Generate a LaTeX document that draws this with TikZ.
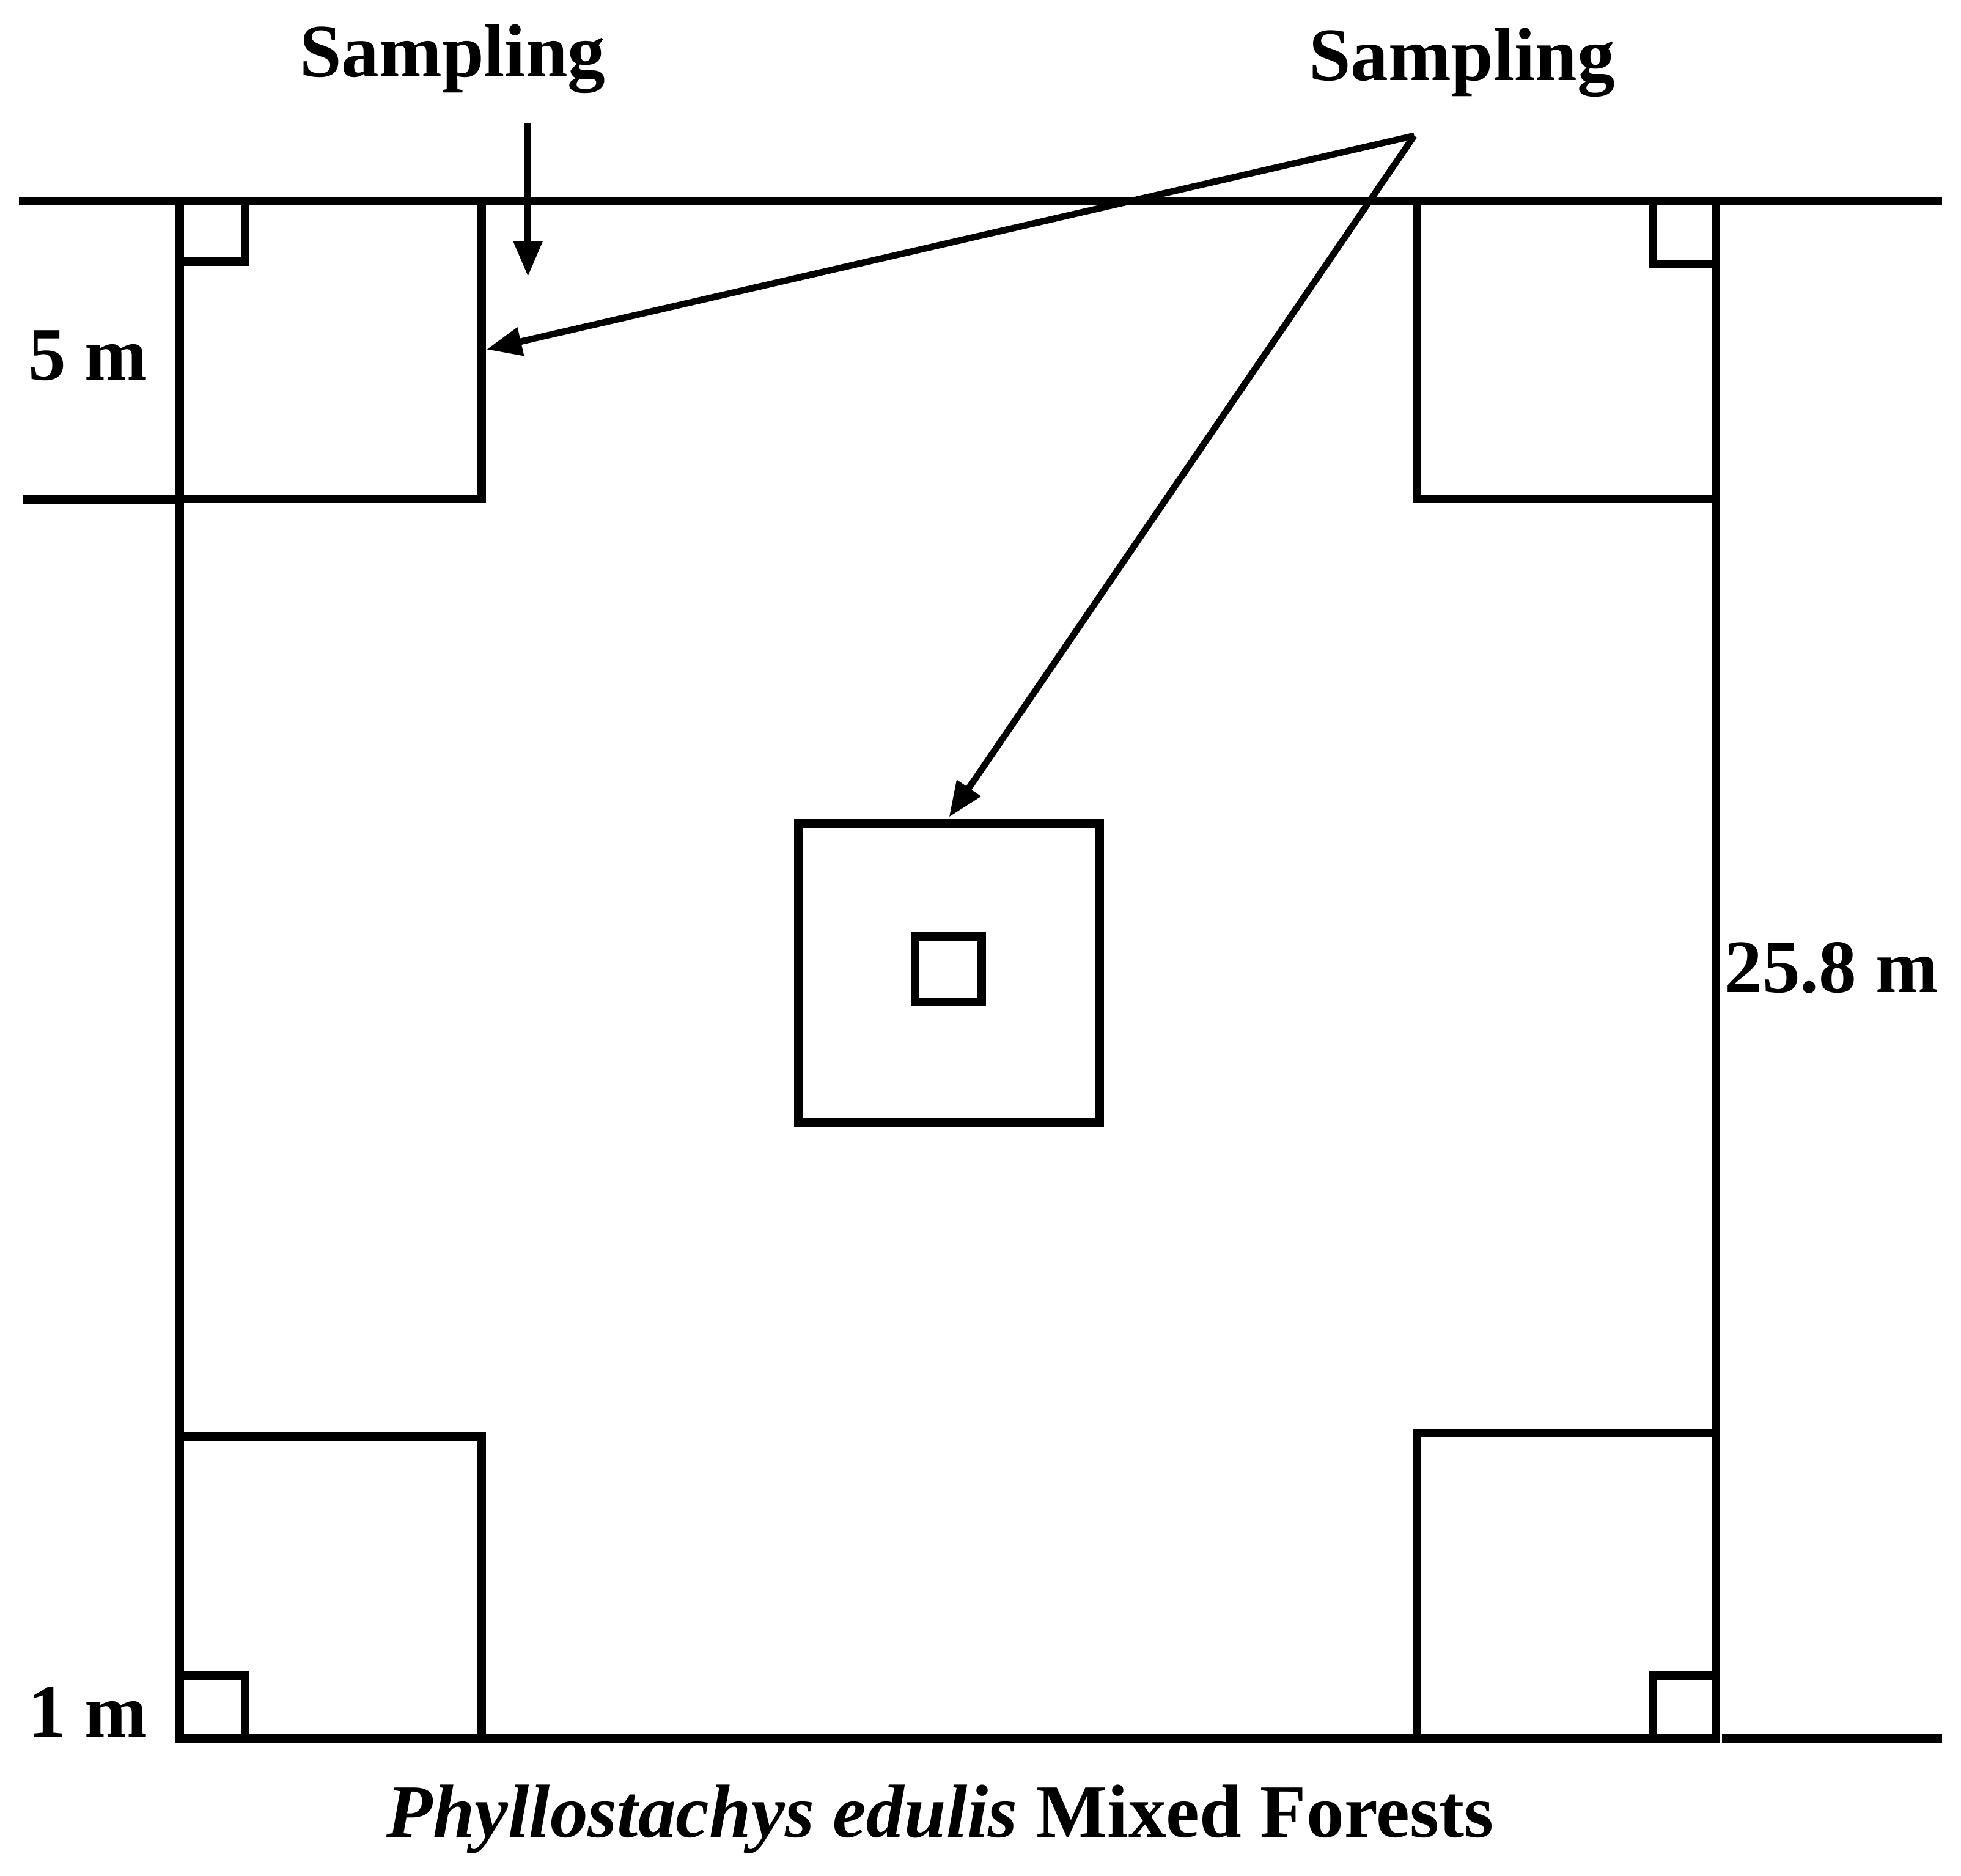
\documentclass[tikz,border=0pt]{standalone}
\usepackage{fontspec}
\setmainfont{Liberation Serif}
\usetikzlibrary{arrows.meta}
\begin{document}
\begin{tikzpicture}[x=0.5pt,y=-0.5pt,
  plot/.style={draw=black,line width=3.4pt},
  rule/.style={draw=black,line width=3.6pt},
  arr/.style={draw=black,line width=2.6pt,-{Triangle[length=14pt,width=11pt]}},
  lab/.style={font=\fontsize{30}{36}\selectfont\bfseries,inner sep=0pt}]
\useasboundingbox (0,0) rectangle (1560,1492);
% outer plot
\draw[plot] (143,160) rectangle (1365,1383);
\draw[rule] (15,160) -- (143,160);
\draw[rule] (1365,160) -- (1545,160);
\draw[rule] (18,397) -- (143,397);
\draw[rule] (1370,1383) -- (1545,1383);
% 5 m subplots
\draw[plot] (143,160) rectangle (383,397);
\draw[plot] (1127,160) rectangle (1365,397);
\draw[plot] (143,1143) rectangle (383,1383);
\draw[plot] (1127,1140) rectangle (1365,1383);
% 1 m subplots
\draw[plot] (143,160) rectangle (195,208);
\draw[plot] (1315,160) rectangle (1365,210);
\draw[plot] (143,1333) rectangle (195,1383);
\draw[plot] (1315,1333) rectangle (1365,1383);
% centre
\draw[plot] (635,655) rectangle (875,893);
\draw[plot] (728,745) rectangle (781,797);
\coordinate (tl) at (387,278);
\coordinate (cen) at (755,650);
\coordinate (v) at (420,220);
% labels
\node[lab] (s1) at (360,47) {Sampling};
\node[lab] (s2) at (1163,50) {Sampling};
\node[lab] (m5) at (70,283) {5 m};
\node[lab] (m1) at (70,1362) {1 m};
\node[lab] (m25) at (1457,770) {25.8 m};
\node[lab] (cap) at (748,1447) {\textit{Phyllostachys edulis} Mixed Forests};
\coordinate (a0) at (420,98);
\coordinate (b0) at (1125,108);
\draw[arr] (a0) -- (v);
\draw[arr] (b0) -- (tl);
\draw[arr] (b0) -- (cen);
\end{tikzpicture}
\end{document}
